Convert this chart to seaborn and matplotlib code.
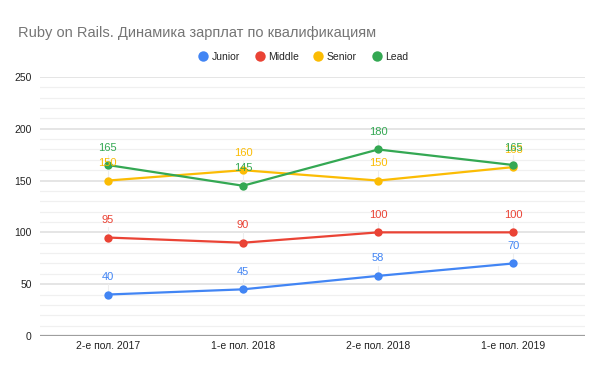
import pandas as pd
import matplotlib.pyplot as plt
import seaborn as sns
from matplotlib.lines import Line2D

periods = ["2-е пол. 2017", "1-е пол. 2018", "2-е пол. 2018", "1-е пол. 2019"]
junior = [40, 45, 58, 70]
middle = [95, 90, 100, 100]
senior = [150, 160, 150, 163]
lead = [165, 145, 180, 165]

levels = ["Junior", "Middle", "Senior", "Lead"]
colors = ["#4285F4", "#EA4335", "#FBBC04", "#34A853"]

rows = []
for name, vals in zip(levels, [junior, middle, senior, lead]):
    for i, v in enumerate(vals):
        rows.append({"period": periods[i], "idx": i, "level": name, "salary": v})
df = pd.DataFrame(rows)

sns.set_style("white")
plt.rcParams["font.family"] = ["Liberation Sans", "DejaVu Sans"]

fig = plt.figure(figsize=(6, 3.7), dpi=100)
ax = fig.add_axes([0.067, 0.092, 0.908, 0.70])

# grid: major every 50, minor every 10
for y in range(10, 251, 10):
    ax.axhline(y, color="#e0e0e0" if y % 50 == 0 else "#f0f0f0",
               lw=1.2 if y % 50 == 0 else 0.9, zorder=0)
ax.axhline(0, color="#9e9e9e", lw=1.6, zorder=1)

sns.lineplot(data=df, x="idx", y="salary", hue="level", hue_order=levels,
             palette=colors, marker="o", markersize=6, markeredgewidth=0,
             linewidth=1.6, legend=False, ax=ax, zorder=3)

# value labels above the points, drawn in series order
for name, vals, c in zip(levels, [junior, middle, senior, lead], colors):
    for i, v in enumerate(vals):
        ax.plot([i, i], [v + 3, v + 10], color="#eeeeee", lw=0.8, zorder=2)
        ax.text(i, v + 12, str(v), color=c, ha="center", va="bottom",
                fontsize=8, zorder=4)

ax.set_xlim(-0.5, 3.53)
ax.set_ylim(0, 250)
ax.set_yticks(range(0, 251, 50))
ax.set_xticks(range(len(periods)))
ax.set_xticklabels(periods)
ax.tick_params(axis="both", length=0, labelsize=7.5, colors="#222222")
ax.tick_params(axis="y", pad=6)
ax.set_xlabel("")
ax.set_ylabel("")
for s in ax.spines.values():
    s.set_visible(False)

fig.text(0.03, 0.91, "Ruby on Rails. Динамика зарплат по квалификациям",
         fontsize=10.5, color="#757575", va="center")

handles = [Line2D([0], [0], marker="o", color="w", markerfacecolor=c,
                  markersize=7.5, markeredgewidth=0) for c in colors]
fig.legend(handles, levels, loc="center", bbox_to_anchor=(0.505, 0.847),
           ncol=4, frameon=False, fontsize=7.5, handletextpad=0.3,
           columnspacing=1.4, handlelength=1.0)

fig.savefig("out.png", dpi=100)
